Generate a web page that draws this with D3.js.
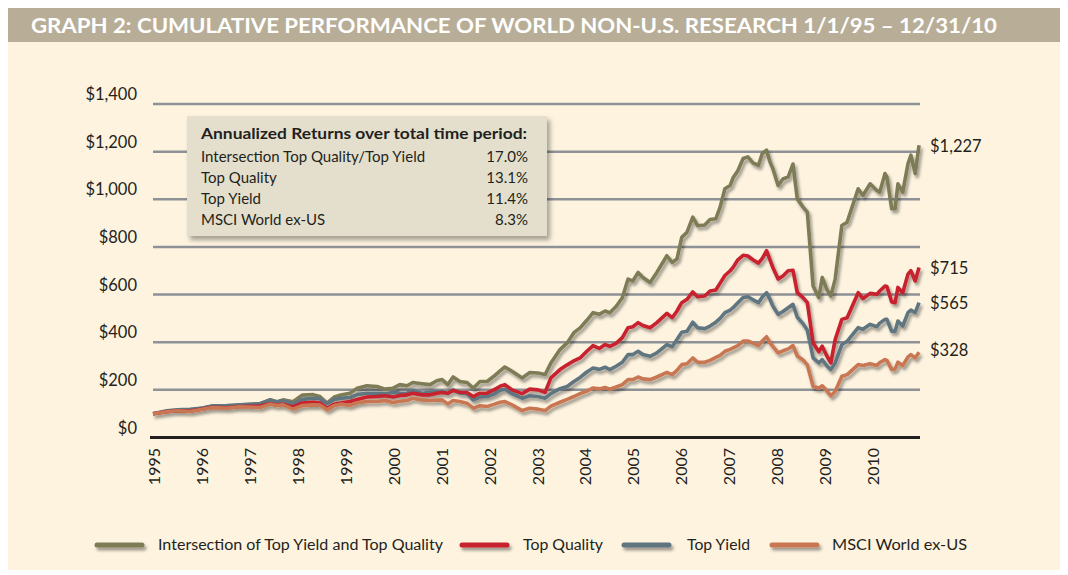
<!DOCTYPE html>
<html><head><meta charset="utf-8">
<script src="https://cdn.jsdelivr.net/npm/d3@7"></script>
<style>
html,body{margin:0;padding:0;background:#fff;}
svg{display:block;font-family:Lato,"Open Sans",sans-serif;}
</style></head><body>
<svg id="chart" width="1068" height="575"></svg>
<script>
// ---- data (decimal years, cumulative value of $100) ----
const dates = [1995.00,1995.29,1995.50,1995.77,1996.04,1996.25,1996.54,1996.81,1997.23,1997.44,1997.59,1997.71,1997.92,1998.11,1998.34,1998.48,1998.63,1998.78,1998.92,1999.11,1999.26,1999.46,1999.67,1999.84,2000.01,2000.15,2000.30,2000.42,2000.61,2000.78,2000.92,2001.03,2001.15,2001.26,2001.40,2001.55,2001.68,2001.82,2001.97,2002.11,2002.24,2002.34,2002.49,2002.70,2002.86,2003.03,2003.18,2003.30,2003.49,2003.64,2003.78,2003.91,2004.05,2004.18,2004.31,2004.43,2004.53,2004.66,2004.79,2004.91,2005.01,2005.12,2005.22,2005.37,2005.51,2005.72,2005.83,2005.93,2006.03,2006.14,2006.26,2006.36,2006.51,2006.62,2006.74,2006.83,2006.93,2007.04,2007.10,2007.20,2007.31,2007.41,2007.52,2007.63,2007.71,2007.80,2007.87,2007.93,2008.04,2008.14,2008.25,2008.35,2008.44,2008.56,2008.65,2008.77,2008.89,2008.96,2009.06,2009.14,2009.23,2009.37,2009.48,2009.71,2009.81,2009.96,2010.10,2010.16,2010.27,2010.31,2010.41,2010.48,2010.54,2010.64,2010.75,2010.81,2010.90,2010.98];
const intersection = [100,110,113,112,124,132,130,136,142,158,150,158,150,178,180,172,144,170,178,186,207,217,214,203,207,222,217,231,226,222,238,243,222,254,235,231,207,235,235,257,280,296,278,250,273,271,264,313,369,397,440,460,492,524,517,531,524,550,587,665,657,693,672,651,693,763,735,749,840,862,925,889,892,915,918,967,1044,1058,1090,1120,1171,1178,1152,1143,1192,1206,1157,1129,1058,1085,1094,1148,1002,967,946,636,587,672,620,594,665,890,904,1044,1016,1065,1037,1030,1108,1094,960,960,1065,1030,1150,1185,1108,1227];
const topQuality = [100,108,112,111,120,127,125,130,132,142,136,140,128,145,148,145,122,140,145,151,160,170,172,175,170,176,179,186,179,179,186,189,186,197,190,189,172,186,186,200,215,222,200,184,203,200,190,250,285,305,322,334,362,386,374,390,383,395,419,461,465,482,470,461,482,521,503,531,566,580,611,591,594,615,619,648,680,700,714,746,765,762,745,732,752,784,746,714,665,678,700,702,608,587,566,397,360,383,341,313,411,496,503,608,583,605,601,615,636,634,569,566,630,608,686,700,657,714];
const topYield = [100,112,116,118,124,133,134,137,141,158,148,155,141,160,165,163,142,160,165,168,180,186,186,184,189,187,186,197,186,190,192,193,184,200,186,184,158,170,172,182,198,203,184,165,175,172,165,184,205,214,235,252,275,292,286,295,285,299,316,348,348,362,348,341,355,390,381,411,442,446,484,461,457,468,484,500,524,535,545,566,588,591,578,566,590,608,580,552,517,529,545,559,505,478,450,334,313,327,300,285,313,390,404,461,454,475,465,480,496,496,446,446,489,468,524,535,524,566];
const msci = [100,108,112,109,119,126,123,129,126,140,134,137,119,134,137,136,116,134,140,135,146,151,151,155,147,152,155,165,158,155,157,158,141,155,151,144,123,133,130,139,148,151,137,113,123,119,113,132,148,160,172,184,195,208,204,210,203,212,222,243,243,254,246,243,254,273,264,282,306,310,334,316,316,324,336,345,362,370,376,386,405,405,396,386,405,423,397,383,355,364,372,386,342,325,305,214,208,217,195,175,193,257,264,306,302,310,302,315,327,324,285,288,316,302,338,348,334,358];

const seriesNames = ["Intersection of Top Yield and Top Quality","Top Quality","Top Yield","MSCI World ex-US"];
const seriesColors = ["#7e7c57","#c8202f","#5f7580","#c97753"];
const endLabels = ["$1,227","$715","$565","$328"];
const returnLabels = ["Intersection Top Quality/Top Yield","Top Quality","Top Yield","MSCI World ex-US"];
const returnValues = ["17.0%","13.1%","11.4%","8.3%"];
const yTicks = [0,200,400,600,800,1000,1200,1400];
const yearTicks = d3.range(1995, 2011);
const titleText = "GRAPH 2: CUMULATIVE PERFORMANCE OF WORLD NON-U.S. RESEARCH 1/1/95 – 12/31/10";
const boxTitle = "Annualized Returns over total time period:";

const seriesData = [intersection, topQuality, topYield, msci];

// ---- drawing ----
const svg = d3.select("#chart");

const defs = svg.append("defs");
const f = defs.append("filter").attr("id","shadow").attr("filterUnits","userSpaceOnUse")
  .attr("x",0).attr("y",0).attr("width",1068).attr("height",575);
f.append("feDropShadow").attr("dx",2).attr("dy",3).attr("stdDeviation",1.6).attr("flood-color","#000").attr("flood-opacity",0.38);
const f2 = defs.append("filter").attr("id","boxshadow").attr("filterUnits","userSpaceOnUse")
  .attr("x",0).attr("y",0).attr("width",1068).attr("height",575);
f2.append("feDropShadow").attr("dx",3).attr("dy",4).attr("stdDeviation",2.5).attr("flood-color","#000").attr("flood-opacity",0.35);

// panel
svg.append("rect").attr("x",8).attr("y",8).attr("width",1052).attr("height",562).attr("fill","#fdf3df");
svg.append("rect").attr("x",8).attr("y",8).attr("width",1052).attr("height",34).attr("fill","#b8ae97");
svg.append("text").attr("x",31).attr("y",33).attr("fill","#fff")
  .attr("font-size",21).attr("font-weight",700)
  .attr("textLength",966).attr("lengthAdjust","spacingAndGlyphs")
  .text(titleText);

const x = d3.scaleLinear().domain([1995, 2011]).range([153, 920]);
const y = d3.scaleLinear().domain([0, 1400]).range([437.5, 104]);

// gridlines
svg.append("g").selectAll("line").data(yTicks.filter(d=>d>0)).join("line")
  .attr("x1",x(1995)).attr("x2",x(2011)).attr("y1",d=>y(d)).attr("y2",d=>y(d))
  .attr("stroke","#8e9196").attr("stroke-width",2.5);

// y labels
svg.append("g").selectAll("text").data(yTicks).join("text")
  .attr("x",137).attr("y",d=>y(d)-4).attr("text-anchor","end")
  .attr("font-size",16.5).attr("fill","#231f20")
  .text(d=>"$"+d3.format(",")(d));

// legend box (returns)
const bx = 187, by = 116, bw = 360, bh = 120;
svg.append("rect").attr("x",bx).attr("y",by).attr("width",bw).attr("height",bh)
  .attr("fill","#e4dfcc").attr("filter","url(#boxshadow)");
svg.append("text").attr("x",201).attr("y",139).attr("font-size",15.5).attr("font-weight",700)
  .attr("fill","#231f20").attr("textLength",326).attr("lengthAdjust","spacingAndGlyphs").text(boxTitle);
const rows = svg.append("g");
returnLabels.forEach((lab,i)=>{
  rows.append("text").attr("x",201).attr("y",162+i*21).attr("font-size",15).attr("fill","#231f20").text(lab);
  rows.append("text").attr("x",528).attr("y",162+i*21).attr("font-size",15).attr("fill","#231f20")
    .attr("text-anchor","end").text(returnValues[i]);
});

// axis line
svg.append("line").attr("x1",150).attr("x2",x(2011)).attr("y1",y(0)).attr("y2",y(0))
  .attr("stroke","#231f20").attr("stroke-width",3);

// year labels
svg.append("g").selectAll("text").data(yearTicks).join("text")
  .attr("transform",d=>`translate(${x(d)+7},448) rotate(-90)`)
  .attr("text-anchor","end").attr("font-size",16).attr("fill","#231f20")
  .text(d=>d);

// series
const line = d3.line().x((d,i)=>x(dates[i])).y(d=>y(d));
const order = [0,2,1,3];
const lg = svg.append("g").attr("filter","url(#shadow)");
order.forEach(k=>{
  lg.append("path").datum(seriesData[k]).attr("d",line)
    .attr("fill","none").attr("stroke",seriesColors[k]).attr("stroke-width",3.6)
    .attr("stroke-linejoin","round");
});

// end labels
const endY = [146, 268, 303, 350];
endLabels.forEach((t,i)=>{
  svg.append("text").attr("x",930).attr("y",endY[i]).attr("dy","0.35em")
    .attr("font-size",16.5).attr("fill","#231f20").text(t);
});

// bottom legend
const legX = [97, 462, 624, 772];
const legTextX = [158, 523, 687, 832];
const legTextW = [285, 80, 63, 135];
const leg = svg.append("g");
seriesNames.forEach((n,i)=>{
  leg.append("line").attr("x1",legX[i]).attr("x2",legX[i]+45).attr("y1",545).attr("y2",545)
    .attr("stroke",seriesColors[i]).attr("stroke-width",5).attr("stroke-linecap","round")
    .attr("filter","url(#shadow)");
  leg.append("text").attr("x",legTextX[i]).attr("y",545).attr("dy","0.35em")
    .attr("font-size",15.5).attr("fill","#231f20")
    .attr("textLength",legTextW[i]).attr("lengthAdjust","spacingAndGlyphs").text(n);
});
</script>
</body></html>
